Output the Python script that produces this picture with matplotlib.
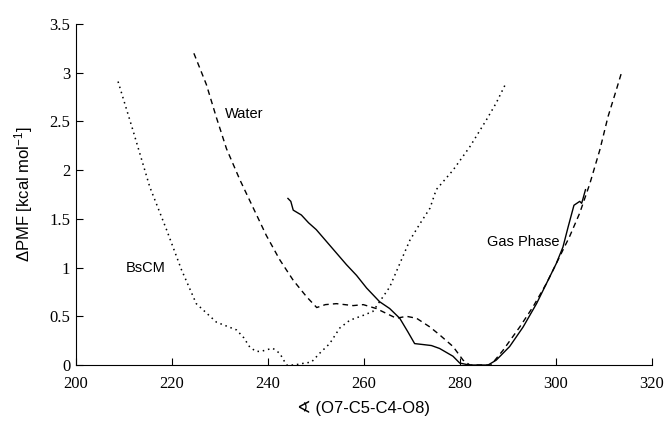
import matplotlib
matplotlib.use('Agg')
import matplotlib.pyplot as plt

# Datos (ángulo diedro vs ΔPMF)
bscm_x = [208.8, 211.9, 215.4, 218.9, 222.0, 225.1, 229.3, 233.5, 235.0, 236.3, 237.6, 238.6,
          240.0, 241.1, 242.5, 243.9, 245.5, 247.7, 249.1, 250.8, 252.9, 255.0, 257.1, 259.9,
          261.9, 263.3, 265.4, 267.5, 269.6, 271.7, 273.8, 275.1, 278.6, 282.1, 285.6, 287.6, 289.6]
bscm_y = [2.91, 2.41, 1.83, 1.39, 0.98, 0.63, 0.44, 0.36, 0.28, 0.18, 0.14, 0.14,
          0.16, 0.17, 0.12, 0.0, 0.0, 0.02, 0.03, 0.12, 0.22, 0.38, 0.46, 0.51,
          0.55, 0.65, 0.80, 1.04, 1.28, 1.45, 1.61, 1.80, 2.00, 2.24, 2.52, 2.69, 2.89]

water_x = [224.6, 227.2, 229.3, 231.4, 234.2, 236.9, 239.7, 242.5, 245.3, 248.1, 250.2, 252.0,
           254.3, 257.8, 259.9, 262.6, 264.7, 266.8, 268.9, 271.0, 273.8, 275.8, 278.6, 280.7,
           282.1, 284.0, 286.5, 289.0, 292.5, 295.3, 298.1, 300.8, 302.9, 305.0, 307.1, 309.2,
           310.9, 312.6, 313.7]
water_y = [3.20, 2.88, 2.54, 2.22, 1.90, 1.62, 1.33, 1.08, 0.87, 0.70, 0.59, 0.62,
           0.63, 0.61, 0.62, 0.58, 0.53, 0.48, 0.50, 0.48, 0.39, 0.31, 0.19, 0.05,
           0.0, 0.0, 0.0, 0.15, 0.39, 0.60, 0.84, 1.11, 1.32, 1.56, 1.86, 2.21,
           2.55, 2.82, 3.0]

gas_x = [244.2, 244.8, 245.3, 247.0, 248.5, 250.1, 252.2, 254.3, 256.4, 258.5, 260.6, 263.3,
         265.4, 267.5, 269.2, 270.6, 272.4, 274.1, 275.8, 276.5, 278.6, 280.0, 282.0, 284.0,
         285.9, 287.6, 290.4, 293.2, 296.0, 298.1, 300.1, 301.5, 302.6, 303.8, 305.0, 305.4,
         305.7, 306.2]
gas_y = [1.71, 1.68, 1.59, 1.54, 1.46, 1.39, 1.27, 1.15, 1.03, 0.92, 0.79, 0.65,
         0.58, 0.48, 0.34, 0.22, 0.21, 0.20, 0.17, 0.15, 0.09, 0.02, 0.0, 0.0,
         0.0, 0.05, 0.19, 0.39, 0.63, 0.84, 1.04, 1.21, 1.42, 1.64, 1.68, 1.66,
         1.71, 1.80]

x_ticks = [200, 220, 240, 260, 280, 300, 320]
x_tick_labels = ['200', '220', '240', '260', '280', '300', '320']
y_ticks = [0, 0.5, 1, 1.5, 2, 2.5, 3, 3.5]
y_tick_labels = ['0', '0.5', '1', '1.5', '2', '2.5', '3', '3.5']

plt.rcParams['mathtext.fontset'] = 'custom'
plt.rcParams['mathtext.rm'] = 'Liberation Sans'
plt.rcParams['mathtext.it'] = 'Liberation Sans'

fig = plt.figure(figsize=(6.65, 4.22), dpi=100)
ax = fig.add_axes([0.114, 0.135, 0.866, 0.808])

ax.plot(bscm_x, bscm_y, color='black', linestyle=(0, (1, 2.5)), linewidth=1.1)
ax.plot(water_x, water_y, color='black', linestyle=(0, (4, 3)), linewidth=1.0)
ax.plot(gas_x, gas_y, color='black', linestyle='-', linewidth=1.0)

# Etiquetas de las curvas
sans = ['Liberation Sans', 'DejaVu Sans']
ax.text(231, 2.58, 'Water', fontsize=10.5, family=sans, va='center')
ax.text(210.5, 1.0, 'BsCM', fontsize=10.5, family=sans, va='center')
ax.text(300.8, 1.26, 'Gas Phase', fontsize=10.5, family=sans, va='center', ha='right')

ax.set_xlim(200, 320)
ax.set_ylim(0, 3.5)
serif = {'family': 'Liberation Serif', 'size': 12}
ax.set_xticks(x_ticks, x_tick_labels, fontdict=serif)
ax.set_yticks(y_ticks, y_tick_labels, fontdict=serif)
ax.tick_params(direction='in', length=5, width=0.8)
ax.tick_params(axis='x', pad=8)
ax.tick_params(axis='y', pad=4)

ax.spines['top'].set_visible(False)
ax.spines['right'].set_visible(False)
ax.spines['left'].set_linewidth(0.8)
ax.spines['bottom'].set_linewidth(0.8)

ax.set_xlabel('\u2222 (O7-C5-C4-O8)', fontsize=12, family=sans, labelpad=6)
ax.set_ylabel(r'ΔPMF [kcal mol$^{-1}$]', fontsize=12, family=sans, labelpad=10)

fig.savefig('out.png', dpi=100)
